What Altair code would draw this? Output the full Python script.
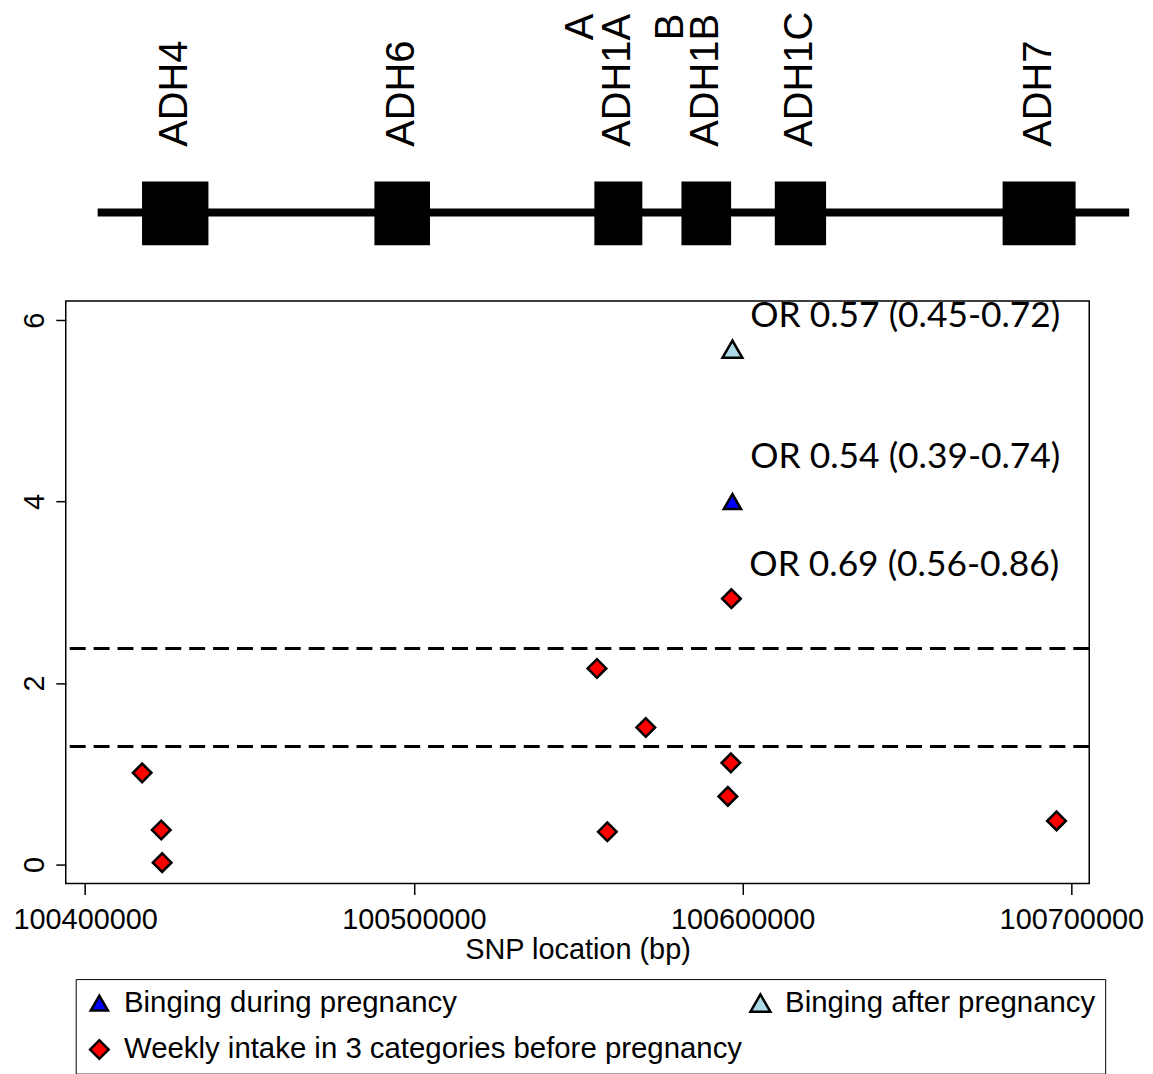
import altair as alt
import pandas as pd

# ---------------- gene track (schematic) ----------------
gene_names = ["ADH4", "ADH6", "ADH1A", "ADH1B", "ADH1C", "ADH7"]
gene_start = [100417300, 100488000, 100554900, 100581400, 100609800, 100679100]
gene_end = [100437500, 100504900, 100569500, 100596500, 100625400, 100701300]
track_start = [100403800]
track_end = [100717600]
extra_letters = ["A", "B"]
extra_letter_pos = [100550800, 100578100]

# ---------------- SNP association results ----------------
# legend is filled column by column: this order gives
# row 1: during | after, row 2: weekly
series = [
    "Binging during pregnancy",
    "Weekly intake in 3 categories before pregnancy",
    "Binging after pregnancy",
]
series_fill = ["#0000FF", "#FF0000", "#ADD8E6"]
series_shape = ["triangle-up", "diamond", "triangle-up"]
series_size = [300, 400, 300]

weekly_pos = [100417330, 100423150, 100423420, 100555700, 100558850,
              100570550, 100595520, 100596420, 100596600, 100695500]
weekly_logp = [1.01, 0.38, 0.02, 2.16, 0.36, 1.51, 0.75, 1.12, 2.93, 0.48]
during_pos = [100596900]
during_logp = [4.00]
after_pos = [100596900]
after_logp = [5.68]

thresholds = [1.30, 2.38]

or_text = ["OR 0.57 (0.45-0.72)", "OR 0.54 (0.39-0.74)", "OR 0.69 (0.56-0.86)"]
or_pos = [100596900, 100596900, 100596600]
or_text_y = [5.92, 4.37, 3.18]

x_ticks = [100400000, 100500000, 100600000, 100700000]
y_ticks = [0, 2, 4, 6]

# ---------------- data frames ----------------
genes = pd.DataFrame({"name": gene_names, "start": gene_start, "end": gene_end})
genes["mid"] = (genes["start"] + genes["end"]) / 2
genes["top"] = 171
genes["bottom"] = 235
genes["lab"] = 136
line_df = pd.DataFrame({"start": track_start, "end": track_end, "ty": [202]})
letters_df = pd.DataFrame({"name": extra_letters, "mid": extra_letter_pos, "lab": [29, 29]})

snp = pd.DataFrame({
    "pos": weekly_pos + during_pos + after_pos,
    "logp": weekly_logp + during_logp + after_logp,
    "series": ["Weekly intake in 3 categories before pregnancy"] * len(weekly_pos)
    + ["Binging during pregnancy"] * len(during_pos)
    + ["Binging after pregnancy"] * len(after_pos),
})
thr_df = pd.DataFrame({"logp": thresholds})
or_df = pd.DataFrame({"label": or_text, "pos": or_pos, "logp": or_text_y})

FONT = "Liberation Sans"
W = 1028

x_scale = alt.Scale(domain=[100394094, 100705452], nice=False, zero=False)
track_x = alt.Scale(domain=[100394094, 100705452], nice=False, zero=False)
track_y = alt.Scale(domain=[0, 250], reverse=True, nice=False, zero=False)
y_scale = alt.Scale(domain=[-0.21, 6.21], nice=False, zero=False)

# ---------------- gene track chart ----------------
tline = alt.Chart(line_df).mark_rule(color="black", strokeWidth=8).encode(
    x=alt.X("start:Q", scale=track_x, axis=None),
    x2="end:Q",
    y=alt.Y("ty:Q", scale=track_y, axis=None),
)
tbox = alt.Chart(genes).mark_rect(color="black").encode(
    x=alt.X("start:Q", scale=track_x, axis=None),
    x2="end:Q",
    y=alt.Y("top:Q", scale=track_y, axis=None),
    y2="bottom:Q",
)
tlab = alt.Chart(genes).mark_text(
    angle=270, align="left", baseline="middle", font=FONT, fontSize=40, color="black"
).encode(
    x=alt.X("mid:Q", scale=track_x, axis=None),
    y=alt.Y("lab:Q", scale=track_y, axis=None),
    text="name:N",
)
tlet = alt.Chart(letters_df).mark_text(
    angle=270, align="left", baseline="middle", font=FONT, fontSize=40, color="black"
).encode(
    x=alt.X("mid:Q", scale=track_x, axis=None),
    y=alt.Y("lab:Q", scale=track_y, axis=None),
    text="name:N",
)
track = alt.layer(tline, tbox, tlab, tlet).properties(
    width=W, height=250, view=alt.ViewBackground(stroke="transparent")
)

# ---------------- scatter chart ----------------
x_axis = alt.Axis(
    values=x_ticks, format="d", grid=False, domain=False,
    tickSize=11, tickColor="black", tickWidth=1.5,
    labelFont=FONT, labelFontSize=29, labelColor="black", labelPadding=11,
    labelFlush=False, labelOverlap=False,
    title="SNP location (bp)", titleFont=FONT, titleFontSize=29,
    titleFontWeight="normal", titleColor="black", titlePadding=1,
)
y_axis = alt.Axis(
    values=y_ticks, grid=False, domain=False, title=None,
    tickSize=10, tickColor="black", tickWidth=1.5,
    labelFont=FONT, labelFontSize=29, labelColor="black", labelPadding=12,
    labelAngle=270, labelAlign="center", labelBaseline="alphabetic",
    labelFlush=False,
)

legend = alt.Legend(
    title=None, orient="none", legendX=10, legendY=681, columns=2,
    strokeColor="black", padding=9, columnPadding=2, rowPadding=16,
    labelFont=FONT, labelFontSize=29.5, labelColor="black", labelLimit=2000,
    labelOffset=10, symbolStrokeColor="black", symbolStrokeWidth=2.5,
)

rules = alt.Chart(thr_df).mark_rule(color="black", strokeWidth=3, strokeDash=[16, 8]).encode(
    y=alt.Y("logp:Q", scale=y_scale, axis=y_axis)
)
points = alt.Chart(snp).mark_point(
    filled=True, strokeWidth=2.5, opacity=1
).encode(
    x=alt.X("pos:Q", scale=x_scale, axis=x_axis),
    y=alt.Y("logp:Q", scale=y_scale, axis=y_axis),
    shape=alt.Shape("series:N", scale=alt.Scale(domain=series, range=series_shape), legend=legend),
    fill=alt.Fill("series:N", scale=alt.Scale(domain=series, range=series_fill), legend=legend),
    stroke=alt.Stroke("series:N", scale=alt.Scale(domain=series, range=["black", "black", "black"]), legend=legend),
    size=alt.Size("series:N", scale=alt.Scale(domain=series, range=series_size), legend=legend),
)
texts = alt.Chart(or_df).mark_text(
    align="left", baseline="alphabetic", dx=18, font="Lato", fontSize=35.5, color="black"
).encode(
    x=alt.X("pos:Q", scale=x_scale, axis=x_axis),
    y=alt.Y("logp:Q", scale=y_scale, axis=y_axis),
    text="label:N",
)
scatter = alt.layer(rules, points, texts).properties(width=W, height=585)

chart = alt.vconcat(track, scatter, spacing=41, bounds="flush").resolve_scale(
    x="independent", shape="independent", fill="independent",
    stroke="independent", size="independent"
).resolve_legend(
    shape="independent", fill="independent", stroke="independent", size="independent"
).properties(
    padding={"left": 4, "top": 0, "right": 0, "bottom": 0},
    background="white",
).configure_view(stroke="black", strokeWidth=1.5)

chart.save("out.html", embed_options={"renderer": "svg", "actions": False})
